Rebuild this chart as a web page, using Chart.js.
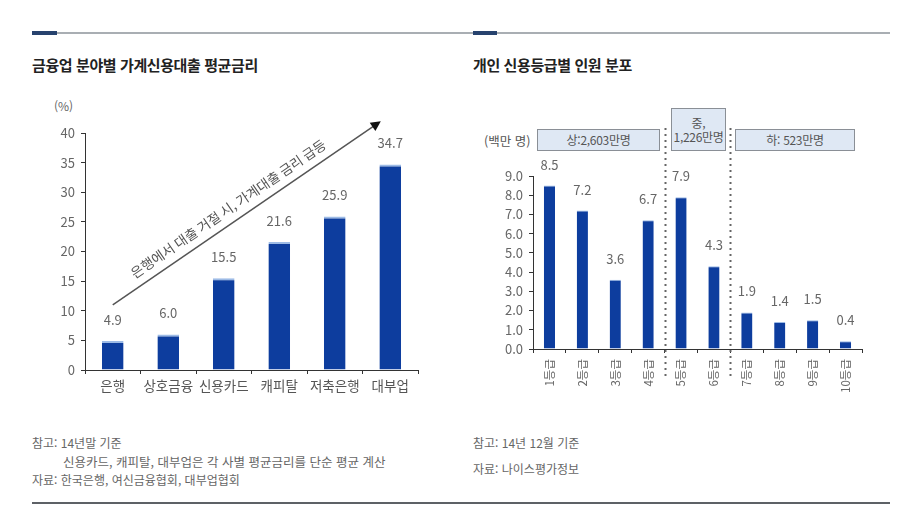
<!DOCTYPE html>
<html lang="ko">
<head>
<meta charset="utf-8">
<script src="https://cdn.jsdelivr.net/npm/chart.js@4.4.1/dist/chart.umd.min.js"></script>
<style>
  html, body { margin:0; padding:0; background:#fff; }
  body { width:906px; height:506px; position:relative; overflow:hidden;
         font-family:"Noto Sans CJK KR","Noto Sans",sans-serif; }
  .abs { position:absolute; white-space:nowrap; }
  .rule { position:absolute; height:2px; background:#a9aeb3; }
  .accent { position:absolute; height:4px; background:#27426e; }
  .title { font-size:15px; font-weight:bold; color:#222; letter-spacing:-0.4px; }
  .note { font-size:12px; color:#666; }
  .box { position:absolute; background:#dfe8f4; border:1px solid #8a8f96; box-sizing:border-box;
         font-size:12px; color:#555; text-align:center; line-height:1.15; display:flex;
         flex-direction:column; justify-content:center; letter-spacing:-0.3px; }
  canvas { position:absolute; }
</style>
</head>
<body>
<div class="rule" style="left:32px; top:32px; width:858px;"></div>
<div class="accent" style="left:32px; top:31px; width:25px;"></div>
<div class="accent" style="left:473px; top:31px; width:24px;"></div>

<div class="abs title" style="left:32px; top:54px;">금융업 분야별 가계신용대출 평균금리</div>
<div class="abs title" style="left:473px; top:54px;">개인 신용등급별 인원 분포</div>

<div class="abs note" style="left:54px; top:97px; font-size:12px;">(%)</div>

<div class="abs note" style="left:484px; top:131px; font-size:12.5px; color:#555;">(백만 명)</div>
<div class="box" style="left:537px; top:129px; width:123px; height:22px;">상:2,603만명</div>
<div class="box" style="left:671px; top:108px; width:55px; height:43px;"><span>중,</span><span>1,226만명</span></div>
<div class="box" style="left:735px; top:129px; width:120px; height:22px;">하: 523만명</div>

<canvas id="c1" width="400" height="310" style="left:30px; top:90px;"></canvas>
<canvas id="c2" width="420" height="320" style="left:460px; top:100px;"></canvas>

<div class="abs note" style="left:32px; top:434px;">참고: 14년말 기준</div>
<div class="abs note" style="left:63px; top:452px; font-size:12.5px;">신용카드, 캐피탈, 대부업은 각 사별 평균금리를 단순 평균 계산</div>
<div class="abs note" style="left:32px; top:471px;">자료: 한국은행, 여신금융협회, 대부업협회</div>

<div class="abs note" style="left:473px; top:434px;">참고: 14년 12월 기준</div>
<div class="abs note" style="left:473px; top:460px;">자료: 나이스평가정보</div>

<div class="rule" style="left:32px; top:502px; width:858px; background:#5d6166;"></div>

<script>
// ---- Data ----
const sectorCategories = ['은행', '상호금융', '신용카드', '캐피탈', '저축은행', '대부업'];
const sectorRates = [4.9, 6.0, 15.5, 21.6, 25.9, 34.7];
const sectorRateLabels = ['4.9', '6.0', '15.5', '21.6', '25.9', '34.7'];

const gradeCategories = ['1등급', '2등급', '3등급', '4등급', '5등급', '6등급', '7등급', '8등급', '9등급', '10등급'];
const gradePeople = [8.5, 7.2, 3.6, 6.7, 7.9, 4.3, 1.9, 1.4, 1.5, 0.4];
const gradePeopleLabels = ['8.5', '7.2', '3.6', '6.7', '7.9', '4.3', '1.9', '1.4', '1.5', '0.4'];

const arrowText = '은행에서 대출 거절 시, 가계대출 금리 급등';
const groupDividers = [3.5, 5.5];

// ---- Styles ----
const FONT = '"Noto Sans CJK KR","Noto Sans",sans-serif';
const BAR = '#0d3d9e';
const CAP = '#9dbbe6';
const AXIS = '#333';

const valueLabels = {
  id: 'valueLabels',
  afterDatasetsDraw(chart, args, opts) {
    const ctx = chart.ctx;
    const meta = chart.getDatasetMeta(0);
    ctx.save();
    ctx.font = '13px ' + FONT;
    ctx.fillStyle = '#666';
    ctx.textAlign = 'center';
    ctx.textBaseline = 'middle';
    meta.data.forEach((bar, i) => {
      ctx.fillText(opts.labels[i], bar.x, bar.y - 21);
    });
    ctx.restore();
  }
};

const trendArrow = {
  id: 'trendArrow',
  afterDraw(chart) {
    const xs = chart.scales.x, ys = chart.scales.y, ctx = chart.ctx;
    const x0 = xs.getPixelForValue(0), y0 = ys.getPixelForValue(11);
    const x1 = xs.getPixelForValue(4.83), y1 = ys.getPixelForValue(42);
    const ang = Math.atan2(y1 - y0, x1 - x0);
    ctx.save();
    ctx.strokeStyle = '#555';
    ctx.lineWidth = 1.5;
    ctx.beginPath();
    ctx.moveTo(x0, y0);
    ctx.lineTo(x1 - 6 * Math.cos(ang), y1 - 6 * Math.sin(ang));
    ctx.stroke();
    ctx.translate(x1, y1);
    ctx.rotate(ang);
    ctx.fillStyle = '#111';
    ctx.beginPath();
    ctx.moveTo(0, 0);
    ctx.lineTo(-10, -5);
    ctx.lineTo(-10, 5);
    ctx.closePath();
    ctx.fill();
    ctx.restore();

    // text along the arrow
    ctx.save();
    const mx = x0 + (x1 - x0) * 0.46, my = y0 + (y1 - y0) * 0.46;
    ctx.translate(mx, my);
    ctx.rotate(ang);
    ctx.font = '13.5px ' + FONT;
    ctx.fillStyle = '#555';
    ctx.textAlign = 'center';
    ctx.textBaseline = 'middle';
    ctx.fillText(arrowText, 0, -14);
    ctx.restore();
  }
};

const dividers = {
  id: 'dividers',
  afterDraw(chart) {
    const xs = chart.scales.x, ctx = chart.ctx;
    ctx.save();
    ctx.strokeStyle = '#666';
    ctx.lineWidth = 2;
    ctx.setLineDash([2, 4]);
    groupDividers.forEach(v => {
      const x = Math.round(xs.getPixelForValue(v)) + 0.5;
      ctx.beginPath();
      ctx.moveTo(x, 28);
      ctx.lineTo(x, 278);
      ctx.stroke();
    });
    ctx.restore();
  }
};

new Chart(document.getElementById('c1'), {
  type: 'bar',
  data: {
    labels: sectorCategories,
    datasets: [{
      data: sectorRates,
      backgroundColor: BAR,
      borderColor: CAP,
      borderWidth: { top: 2, left: 0, right: 0, bottom: 0 },
      borderSkipped: 'start',
      categoryPercentage: 1,
      barPercentage: 0.39
    }]
  },
  options: {
    responsive: false,
    animation: false,
    events: [],
    layout: { padding: { top: 43, right: 12, left: 0, bottom: 0 } },
    plugins: { legend: { display: false }, tooltip: { enabled: false },
               valueLabels: { labels: sectorRateLabels } },
    scales: {
      x: {
        afterFit(s) { s.height = 30; },
        grid: { offset: true, drawOnChartArea: false, tickLength: 4, color: AXIS },
        border: { display: true, color: AXIS, width: 1 },
        ticks: { font: { family: FONT, size: 13.5 }, color: '#555', padding: 4, maxRotation: 0 }
      },
      y: {
        min: 0, max: 40,
        afterFit(s) { s.width = 55; },
        grid: { drawOnChartArea: false, tickLength: 4, color: AXIS },
        border: { display: true, color: AXIS, width: 1 },
        ticks: { stepSize: 5, font: { family: FONT, size: 13 }, color: '#666', padding: 6 }
      }
    }
  },
  plugins: [valueLabels, trendArrow]
});

new Chart(document.getElementById('c2'), {
  type: 'bar',
  data: {
    labels: gradeCategories,
    datasets: [{
      data: gradePeople,
      backgroundColor: BAR,
      borderColor: CAP,
      borderWidth: { top: 1, left: 0, right: 0, bottom: 0 },
      borderSkipped: 'start',
      categoryPercentage: 1,
      barPercentage: 0.34
    }]
  },
  options: {
    responsive: false,
    animation: false,
    events: [],
    layout: { padding: { top: 76, right: 18, left: 0, bottom: 0 } },
    plugins: { legend: { display: false }, tooltip: { enabled: false },
               valueLabels: { labels: gradePeopleLabels } },
    scales: {
      x: {
        afterFit(s) { s.height = 71; },
        grid: { offset: true, drawOnChartArea: false, tickLength: 4, color: AXIS },
        border: { display: true, color: AXIS, width: 1 },
        ticks: { font: { family: FONT, size: 11.5 }, color: '#666', padding: 6,
                 minRotation: 90, maxRotation: 90, autoSkip: false }
      },
      y: {
        min: 0, max: 9,
        afterFit(s) { s.width = 73; },
        grid: { drawOnChartArea: false, tickLength: 4, color: AXIS },
        border: { display: true, color: AXIS, width: 1 },
        ticks: { stepSize: 1, font: { family: FONT, size: 13 }, color: '#666', padding: 6,
                 callback: v => Number(v).toFixed(1) }
      }
    }
  },
  plugins: [valueLabels, dividers]
});
</script>
</body>
</html>
